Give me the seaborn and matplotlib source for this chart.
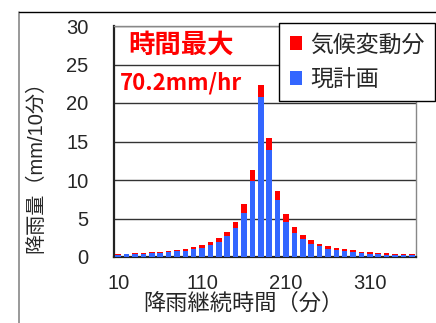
import matplotlib
matplotlib.use("Agg")
import matplotlib.pyplot as plt
import seaborn as sns
import pandas as pd
from matplotlib.lines import Line2D
from matplotlib.patches import Patch

# ---- data ----
minutes = [10, 20, 30, 40, 50, 60, 70, 80, 90, 100, 110, 120, 130, 140, 150, 160, 170, 180,
           190, 200, 210, 220, 230, 240, 250, 260, 270, 280, 290, 300, 310, 320, 330, 340, 350, 360]
plan = [0.3, 0.35, 0.4, 0.45, 0.5, 0.55, 0.6, 0.75, 0.8, 1.0, 1.2, 1.5, 2.0, 2.7, 3.8, 5.75,
        9.85, 20.8, 13.9, 7.4, 4.6, 3.15, 2.3, 1.75, 1.45, 1.1, 0.9, 0.8, 0.65, 0.52, 0.4,
        0.35, 0.3, 0.3, 0.28, 0.25]
climate = [0.1, 0.1, 0.1, 0.1, 0.15, 0.15, 0.2, 0.2, 0.3, 0.3, 0.4, 0.45, 0.45, 0.55, 0.8, 1.1,
           1.5, 1.5, 1.55, 1.2, 1.0, 0.75, 0.55, 0.4, 0.3, 0.3, 0.25, 0.2, 0.22, 0.18, 0.2,
           0.17, 0.18, 0.13, 0.12, 0.1]
tick_labels = ["10", "110", "210", "310"]
series_names = ["気候変動分", "現計画"]
annot_title = "時間最大"
annot_value = "70.2mm/hr"

RED = "#FF0000"
BLUE = "#3366FF"

sns.set_style("white")
plt.rcParams["font.family"] = ["Liberation Sans", "Noto Sans CJK JP", "DejaVu Sans"]

df = pd.DataFrame({"minute": minutes, "plan": plan, "climate": climate})
df["total"] = df["plan"] + df["climate"]

fig = plt.figure(figsize=(4.36, 3.23), dpi=100)
W, H = 436, 323
ax = fig.add_axes([114 / W, 1 - 257 / H, (416 - 114) / W, (257 - 26) / H])

sns.barplot(data=df, x="minute", y="total", color=RED, width=0.66, saturation=1,
            linewidth=0, ax=ax, zorder=3)
sns.barplot(data=df, x="minute", y="plan", color=BLUE, width=0.66, saturation=1,
            linewidth=0, ax=ax, zorder=4)

ax.set_xlim(-0.5, len(minutes) - 0.5)
ax.set_ylim(0, 30)
ax.set_yticks([0, 5, 10, 15, 20, 25, 30])
ax.set_xticks([0, 10, 20, 30])
ax.set_xticklabels(tick_labels)
ax.set_xticks([9.5, 19.5, 29.5], minor=True)
ax.tick_params(axis="x", which="major", length=0, pad=12, labelsize=14.5)
ax.tick_params(axis="x", which="minor", length=5, direction="in", color="#777777", width=1.2)
ax.tick_params(axis="y", length=0, pad=18.5, labelsize=14.5)

ax.grid(axis="y", color="#333333", linewidth=1.0, zorder=1)
ax.set_axisbelow(True)
for s in ["left", "bottom"]:
    ax.spines[s].set_color("#222222")
    ax.spines[s].set_linewidth(1.6)
for s in ["top", "right"]:
    ax.spines[s].set_color("#888888")
    ax.spines[s].set_linewidth(1.0)

ax.set_xlabel("降雨継続時間（分）", fontsize=16)
ax.xaxis.set_label_coords((243 - 114) / 302, -0.16)
ax.set_ylabel("降雨量（mm/10分）", fontsize=14.5)
ax.yaxis.set_label_coords((45 - 114) / 302, 0.41)

handles = [Patch(facecolor=RED, edgecolor="none"), Patch(facecolor=BLUE, edgecolor="none")]
leg = fig.legend(handles, series_names, loc="upper right",
                 bbox_to_anchor=(435 / W, 1 - 23 / H), frameon=True, fancybox=False,
                 edgecolor="black", framealpha=1, fontsize=16.5, handlelength=0.55,
                 handleheight=0.55, handletextpad=0.35, labelspacing=0.5,
                 borderpad=0.45, borderaxespad=0)
leg.get_frame().set_linewidth(1.0)

fig.text(181 / W, 1 - 45 / H, annot_title, color=RED, fontsize=19, fontweight="bold",
         family=["Noto Sans CJK JP"], ha="center", va="center")
fig.text(120 / W, 1 - 83 / H, annot_value, color=RED, fontsize=16, fontweight="bold",
         family=["Noto Sans CJK JP"], ha="left", va="center")

# outer frame (left and top)
fig.add_artist(Line2D([19 / W, 19 / W], [0, 1 - 12 / H], color="#888888", linewidth=1.2))
fig.add_artist(Line2D([19 / W, 1], [1 - 12 / H, 1 - 12 / H], color="black", linewidth=1.0))

fig.savefig("out.png", dpi=100)
